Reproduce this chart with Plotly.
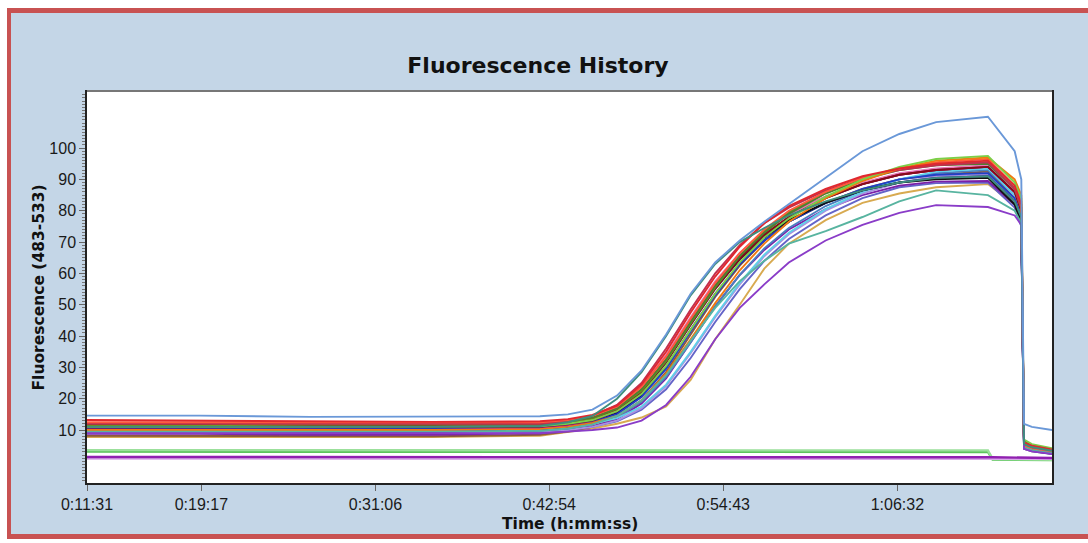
import plotly.graph_objects as go

# ---------------- data ----------------
# sample times (seconds since start of run)
TIME_S = [691, 1150, 1600, 2100, 2536, 2650, 2750, 2850, 2950, 3050, 3150, 3250,
          3350, 3450, 3550, 3700, 3850, 4000, 4150, 4361, 4470, 4497, 4508, 4540, 4622]
TIME_FLAT_S = [691, 4361, 4380, 4622]

X_TICK_SECONDS = [691, 1157, 1866, 2574, 3283, 3992]
X_TICK_LABELS = ["0:11:31", "0:19:17", "0:31:06", "0:42:54", "0:54:43", "1:06:32"]
Y_TICKS = [10, 20, 30, 40, 50, 60, 70, 80, 90, 100]

RED = [13.2, 13, 12.6, 12.6, 12.8, 13.5, 14.8, 17.8, 24.5, 35, 47.5, 59, 68.5, 76, 81.5, 87, 91, 93.5, 95, 96, 88, 82, 6, 5, 3.8]
DARK_RED = [11.5, 11.5, 11.2, 11.2, 11.5, 12.2, 13.5, 16.5, 22.5, 32, 44, 55.5, 65, 72.5, 78, 84, 88.5, 91.5, 93, 94, 86, 80, 5.5, 4.5, 3.5]
LIGHT_GREEN = [11, 11, 11, 11, 11.2, 12, 13.2, 16, 21.5, 30.5, 42, 53.5, 63.5, 71.5, 77.5, 84.5, 90, 94, 96.5, 97.5, 89, 84, 7, 5.5, 4.2]
DARK_OLIVE = [12.2, 12.2, 12, 12, 12.2, 12.8, 14, 17, 23, 32.5, 44.5, 56, 65.5, 73, 79, 85.5, 90, 93, 94.5, 95, 87, 81, 6.5, 5, 4]
ORANGE = [10, 10, 10, 10, 10.3, 11, 12.3, 14.5, 19.5, 28, 39, 50.5, 61, 69.5, 76.5, 84, 89.5, 93.5, 96, 97, 90, 85, 6, 4.8, 3.6]
TOMATO = [12.5, 12.5, 12.3, 12.3, 12.5, 13.2, 14.5, 17.5, 23.8, 33.5, 45.5, 57, 66.5, 74, 80, 86, 90.5, 93.5, 95.5, 96.5, 88, 83, 5, 4, 3]
CRIMSON = [12, 12, 11.8, 11.8, 12, 12.8, 14.5, 18, 25, 36, 48.5, 60, 69, 76, 81, 86.5, 90.5, 93, 94.5, 95.5, 87, 81, 5.8, 4.6, 3.4]
PINK = [11.2, 11.2, 11, 11, 11.3, 12, 13.8, 17.2, 23.8, 34, 46, 57.5, 66.5, 73.5, 79, 84.5, 89, 92, 93.5, 94.5, 86, 80, 5, 4, 3]
MAGENTA = [10.2, 10.2, 10, 10, 10.5, 11.5, 13, 16.2, 22.5, 32.5, 45, 56.5, 66, 73.5, 79, 84.5, 88.5, 91.5, 93, 94, 86, 80, 4.8, 3.8, 2.8]
CYAN = [10.8, 10.8, 10.8, 10.8, 11, 11.3, 12, 13.8, 17.5, 24.5, 35, 46.5, 57, 66, 73, 80.5, 86, 90, 92.5, 93.5, 85, 79, 5.2, 4.2, 3.2]
STEEL_BLUE = [9.5, 9.5, 9.5, 9.5, 9.8, 10.5, 11.8, 14.2, 19, 27, 38, 49.5, 59.5, 68, 74.5, 81.5, 86.5, 90, 92, 93, 85, 79, 4.5, 3.8, 2.8]
BROWN = [8.2, 8.2, 8, 8, 8.5, 9.5, 11, 14, 19.5, 28.5, 40.5, 52.5, 62.5, 70.5, 76.5, 82.5, 87, 90, 91.5, 92.5, 84, 78, 4.2, 3.5, 2.6]
BLUE = [10.5, 10.5, 10.5, 10.5, 10.8, 11.3, 12.5, 15, 20.5, 29.5, 41.5, 53, 63, 70.5, 76.5, 82.5, 87, 90, 91.5, 92, 84, 78, 4.6, 3.8, 2.8]
LAVENDER = [9, 9, 9.2, 9.2, 9.5, 10, 11, 13, 17, 24, 34.5, 46, 56.5, 65.5, 72.5, 80, 85.5, 89, 91, 91.5, 83, 77, 4.2, 3.5, 2.6]
NAVY = [9.8, 9.8, 9.5, 9.5, 10, 11, 12.5, 15.5, 21, 30, 42, 53.5, 63, 70.5, 76.5, 82.5, 86.5, 89, 90.5, 91, 83, 77, 4.5, 3.6, 2.6]
BLACK = [11.8, 11.8, 11.5, 11.5, 11.8, 12.5, 13.8, 16.8, 22.8, 32.5, 44.5, 55.5, 64.5, 71.5, 77, 82.5, 86.5, 89, 90, 90.5, 82, 76, 5, 4, 3]
PURPLE = [8.8, 8.8, 8.5, 8.5, 9, 10, 11.2, 13.5, 18.5, 26.5, 38, 49.5, 59.5, 67.5, 74, 80.5, 85, 88, 89.3, 89.5, 82, 76, 4.2, 3.4, 2.4]
PERIWINKLE = [9.2, 9.2, 9, 9, 9.3, 10, 11, 12.8, 16.5, 23, 33, 44.5, 55, 64, 71, 78.5, 84, 87.5, 88.8, 89, 81, 75, 4, 3.2, 2.3]
OLIVE = [11.5, 11.5, 11.8, 11.8, 12, 12.6, 13.8, 16.8, 22.5, 32, 44, 55.5, 65.5, 73.5, 79.5, 86, 90.5, 93.5, 95, 95.5, 87, 81, 6, 4.8, 3.6]
MAROON = [10.8, 10.8, 10.8, 10.8, 11, 11.8, 13, 16, 22, 31.5, 43.5, 55, 64.5, 72, 78, 84, 88.5, 91.5, 93, 94, 86, 80, 5, 4, 3]
TAN = [7.8, 7.8, 7.8, 7.8, 8.2, 9.5, 10.5, 12, 14, 17.5, 26, 39, 50, 61.5, 69.5, 77, 82.5, 85.5, 87.5, 88.5, 82, 77, 4, 3.2, 2.4]
TEAL_EARLY = [11, 11, 11, 11, 11.3, 12.5, 14.5, 20, 28.5, 40, 53, 63, 70, 74.5, 78.5, 83, 86.5, 89, 90.5, 91, 83, 78, 5.5, 4.5, 3.4]
TEAL_LOW = [9.5, 9.5, 9.5, 9.5, 9.8, 10.5, 11.8, 14.5, 19.5, 27.5, 38.5, 49, 57.5, 64, 69.5, 73.5, 78, 83, 86.5, 85, 80, 76, 4.5, 3.6, 2.6]
PURPLE_LOW = [9, 9, 8.8, 8.8, 9, 9.5, 10, 10.8, 13, 18, 27, 39, 49, 56.5, 63.5, 70.5, 75.5, 79.3, 81.8, 81.2, 78.5, 75.5, 4, 3.2, 2.4]
BLUE_TOP = [14.6, 14.6, 14.2, 14.2, 14.4, 15, 16.5, 21, 29, 40.5, 53.5, 63.5, 70.5, 76.5, 82, 90.5, 99, 104.5, 108.3, 110, 99, 90, 12, 11, 10]

GREEN_MID_FLAT = [3.1, 3.0, 0.6, 0.4]
GREEN_LIGHT_FLAT = [3.6, 3.5, 0.8, 0.5]
LAVENDER_FLAT = [0.9, 0.9, 0.9, 0.8]
PURPLE_FLAT = [1.4, 1.4, 1.3, 1.1]

# ---------------- styling ----------------
CURVES = [
    (TAN, "#d8aa50"), (BROWN, "#8c5a3c"), (PERIWINKLE, "#6464c8"), (PURPLE, "#7a1fa8"),
    (LAVENDER, "#a890e0"), (STEEL_BLUE, "#4a7fc0"), (CYAN, "#5fd0e8"), (NAVY, "#10107a"),
    (BLUE, "#2040c8"), (BLACK, "#111111"), (MAGENTA, "#c8209a"), (PINK, "#e878b8"),
    (MAROON, "#6a1030"), (DARK_RED, "#8b0a1a"), (OLIVE, "#6a8e22"), (DARK_OLIVE, "#4f7f2f"),
    (CRIMSON, "#c03050"), (TOMATO, "#ff5a3c"), (ORANGE, "#f07a10"), (LIGHT_GREEN, "#7ccf48"),
    (RED, "#e0282e"), (TEAL_LOW, "#58b4a0"), (PURPLE_LOW, "#8a3cc8"), (TEAL_EARLY, "#3e8e7e"),
    (BLUE_TOP, "#6a98d8"),
]
FLATS = [
    (GREEN_MID_FLAT, "#5cc45c"), (GREEN_LIGHT_FLAT, "#9be09b"),
    (LAVENDER_FLAT, "#d8a8e8"), (PURPLE_FLAT, "#9020b0"),
]

fig = go.Figure()
for vals, col in CURVES:
    fig.add_trace(go.Scatter(x=TIME_S, y=vals, mode="lines",
                             line=dict(color=col, width=1.9), hoverinfo="skip"))
for vals, col in FLATS:
    fig.add_trace(go.Scatter(x=TIME_FLAT_S, y=vals, mode="lines",
                             line=dict(color=col, width=2.4), hoverinfo="skip"))

W, H = 1088, 543
L, R, T, B = 87, 36, 92, 60
PW, PH = W - L - R, H - T - B


def px(x):
    return (x - L) / PW


def py(y):
    return (H - B - y) / PH


RED_C = "#c85252"
shapes = []
# white outside margins
for x0, y0, x1, y1 in [(0, 0, W, 8), (0, 0, 7, H), (0, 539, W, H)]:
    shapes.append(dict(type="rect", xref="paper", yref="paper", x0=px(x0), x1=px(x1),
                       y0=py(y1), y1=py(y0), fillcolor="white", line_width=0, layer="above"))
# red frame strips
for x0, y0, x1, y1 in [(7, 8, 11, 539), (7, 8, W, 13), (7, 534, W, 539)]:
    shapes.append(dict(type="rect", xref="paper", yref="paper", x0=px(x0), x1=px(x1),
                       y0=py(y1), y1=py(y0), fillcolor=RED_C, line_width=0, layer="above"))
# grey shadow along the top of the plot frame
shapes.append(dict(type="line", xref="paper", yref="paper", x0=0, x1=1, y0=py(91), y1=py(91),
                   line=dict(color="#777777", width=2), layer="above"))

TICK_FONT = dict(family="Liberation Sans, Arial, sans-serif", size=16, color="#1a1a1a")
BOLD_FONT = "DejaVu Sans, Verdana, sans-serif"

fig.update_layout(
    width=W, height=H,
    margin=dict(l=L, r=R, t=T, b=B),
    paper_bgcolor="#c4d6e7",
    plot_bgcolor="white",
    showlegend=False,
    title=dict(text="<b>Fluorescence History</b>", x=538 / W, xanchor="center",
               y=1 - 65 / H, yanchor="middle", xref="container", yref="container",
               font=dict(family=BOLD_FONT, size=22, color="#111111")),
    xaxis=dict(range=[691, 4622], tickmode="array", tickvals=X_TICK_SECONDS,
               ticktext=X_TICK_LABELS, ticks="outside", ticklen=6, tickcolor="#666666",
               showline=True, linecolor="#222222", linewidth=1.5, mirror=True,
               showgrid=False, zeroline=False, tickfont=TICK_FONT),
    yaxis=dict(range=[-6.9, 117.9], tickmode="array", tickvals=Y_TICKS,
               ticks="outside", ticklen=6, tickcolor="#666666",
               minor=dict(dtick=1, ticks="outside", ticklen=3, tickcolor="#777777", showgrid=False),
               showline=True, linecolor="#222222", linewidth=1.5, mirror=True,
               showgrid=False, zeroline=False, tickfont=TICK_FONT),
    shapes=shapes,
    annotations=[
        dict(text="<b>Fluorescence (483-533)</b>", xref="paper", yref="paper",
             x=px(38), y=0.5, xanchor="center", yanchor="middle", textangle=-90,
             showarrow=False, font=dict(family=BOLD_FONT, size=15.5, color="#111111")),
        dict(text="<b>Time (h:mm:ss)</b>", xref="paper", yref="paper",
             x=0.5, y=py(524), xanchor="center", yanchor="middle",
             showarrow=False, font=dict(family=BOLD_FONT, size=15.5, color="#111111")),
    ],
)

fig.write_html("out.html", config={"displayModeBar": False},
               post_script="document.body.style.margin='0px';")
